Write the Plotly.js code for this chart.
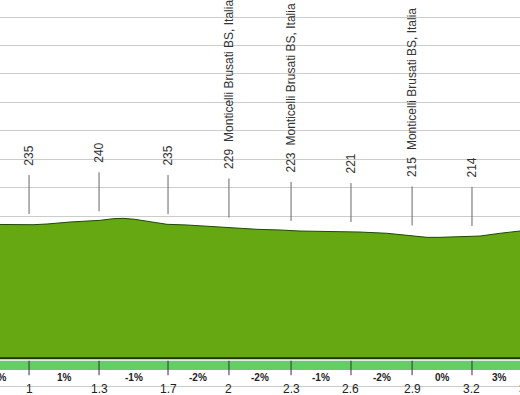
<!DOCTYPE html>
<html><head><meta charset="utf-8">
<script src="https://cdn.plot.ly/plotly-3.0.1.min.js"></script>
<style>html,body{margin:0;padding:0;overflow:hidden;width:520px;height:395px;background:#fff}
#chart{position:absolute;left:-60px;top:0;width:640px;height:395px}</style>
</head><body><div id="chart"></div>
<script>
// Elevation profile (distance in km, elevation in m)
const profileKm = [0.539,0.836,0.935,1.000,1.069,1.183,1.332,1.396,1.446,1.505,1.580,1.664,1.763,1.892,1.991,2.110,2.224,2.323,2.522,2.621,2.755,2.854,2.953,3.017,3.117,3.216,3.315,3.414,3.712];
const profileElev = [236.0,235.5,234.3,234.8,236.0,239.5,242.5,245.3,246.0,244.3,240.1,235.5,234.3,231.3,229.0,226.7,225.5,223.7,222.5,221.9,219.7,216.1,212.6,212.6,213.7,214.9,219.7,223.7,232.0];
// Waypoint markers
const markerKm = [0.682,0.980,1.327,1.669,1.971,2.279,2.576,2.879,3.176,3.449];
const markerElev = [235,235,240,235,229,223,221,215,214,224];
const markerLabels = ['0.7','1','1.3','1.7','2','2.3','2.6','2.9','3.2','3.4'];
const markerPlaces = ['','','','','Monticelli Brusati BS, Italia','Monticelli Brusati BS, Italia','','Monticelli Brusati BS, Italia','',''];
// Grade between consecutive markers
const gradeLabels = ['0%','1%','-1%','-2%','-2%','-1%','-2%','0%','3%'];

const FONT = 'Liberation Sans, Arial, sans-serif';
const shapes = [];
const annotations = [];

// grade strip
shapes.push({type:'rect', xref:'paper', x0:0, x1:1, yref:'y', ysizemode:'pixel', yanchor:0, y0:-2.5, y1:-11.8,
  fillcolor:'#66cc66', line:{width:0}, layer:'above'});
// base line
shapes.push({type:'line', xref:'paper', x0:0, x1:1, yref:'y', y0:0, y1:0, line:{color:'#1a3300', width:2}});

markerKm.forEach((km, i) => {
  // strip tick
  shapes.push({type:'line', xref:'x', x0:km, x1:km, yref:'y', ysizemode:'pixel', yanchor:0, y0:-2.5, y1:-17,
    line:{color:'#333333', width:1}});
  // marker stem
  shapes.push({type:'line', xref:'x', x0:km, x1:km, yref:'y', ysizemode:'pixel', yanchor:markerElev[i], y0:10.5, y1:49.5,
    line:{color:'#666666', width:1}});
  annotations.push({x:km, y:markerElev[i], xref:'x', yref:'y', text:String(markerElev[i]), textangle:-90,
    xanchor:'center', yanchor:'bottom', yshift:57, showarrow:false, font:{family:FONT, size:12, color:'#333333'}});
  if (markerPlaces[i]) {
    annotations.push({x:km, y:markerElev[i], xref:'x', yref:'y', text:markerPlaces[i], textangle:-90,
      xanchor:'center', yanchor:'bottom', yshift:84, showarrow:false, font:{family:FONT, size:12, color:'#333333'}});
  }
  annotations.push({x:km, y:0, xref:'x', yref:'y', text:markerLabels[i], xanchor:'center', yanchor:'middle',
    yshift:-30.5, showarrow:false, font:{family:FONT, size:12, color:'#222222'}});
});
gradeLabels.forEach((g, i) => {
  annotations.push({x:(markerKm[i]+markerKm[i+1])/2, y:0, xref:'x', yref:'y', text:'<b>'+g+'</b>',
    xanchor:'center', yanchor:'middle', yshift:-19.5, showarrow:false, font:{family:FONT, size:10, color:'#222222'}});
});

const trace = {x:profileKm, y:profileElev, type:'scatter', mode:'lines', fill:'tozeroy',
  fillcolor:'#65a812', line:{color:'#1f4a00', width:1}, hoverinfo:'skip'};

const layout = {
  width:640, height:395, margin:{l:0, r:0, t:0, b:0},
  paper_bgcolor:'#ffffff', plot_bgcolor:'#ffffff', showlegend:false,
  xaxis:{range:[0.5385, 3.7115], showgrid:false, zeroline:false, showticklabels:false, ticks:'', showline:false},
  yaxis:{range:[-64.7, 630], tick0:0, dtick:50, showgrid:true, gridcolor:'#cccccc', gridwidth:1,
    zeroline:false, showticklabels:false, ticks:'', showline:false},
  shapes:shapes, annotations:annotations
};
Plotly.newPlot('chart', [trace], layout, {displayModeBar:false, staticPlot:true});
</script></body></html>
